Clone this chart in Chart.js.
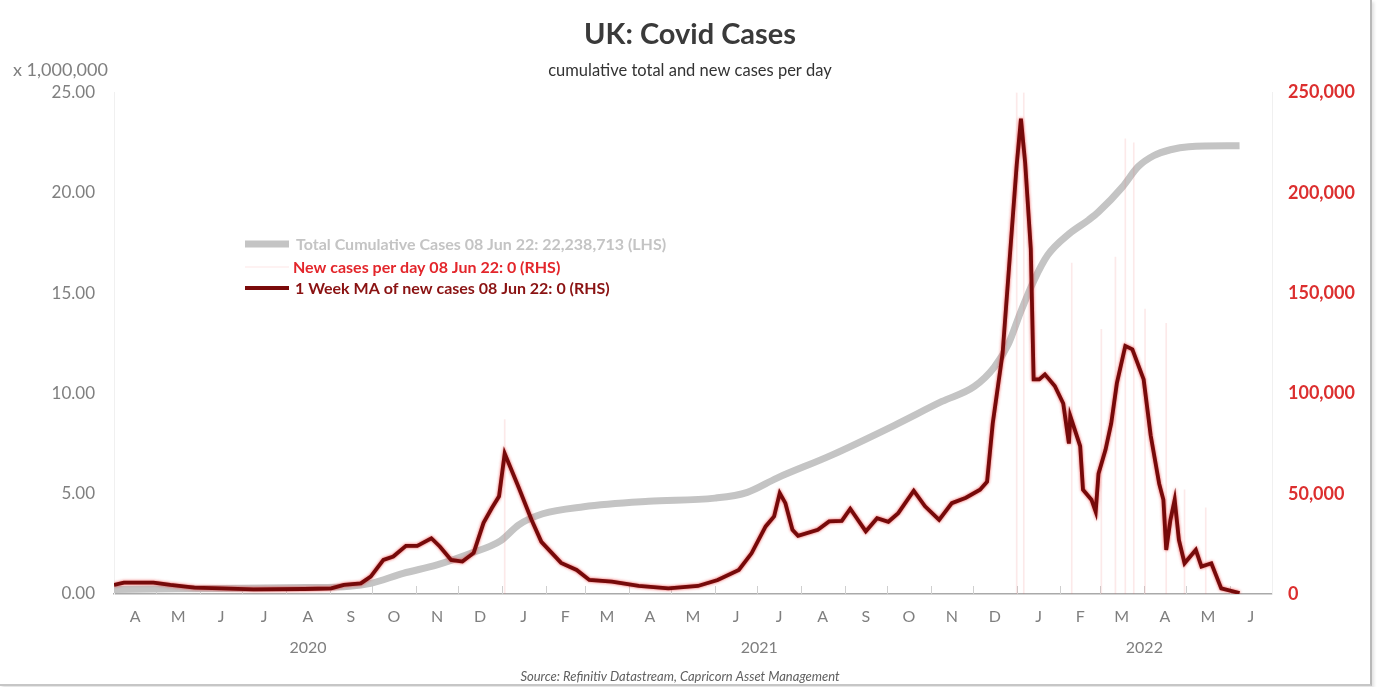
<!DOCTYPE html>
<html lang="en">
<head>
  <meta charset="UTF-8">
  <title>UK: Covid Cases</title>
  <style>
    html, body { margin: 0; padding: 0; background: #fff; }
    .marco { position: relative; width: 1380px; height: 687px; overflow: hidden; }
    .marco canvas { position: absolute; left: 0; top: 0; }
    .borde {
      position: absolute; left: 0; top: 0; width: 1370px; height: 684px;
      border-right: 2px solid #b8b8b8; border-bottom: 2px solid #c6c6c6;
      box-shadow: 2px 2px 3px rgba(0,0,0,0.12); pointer-events: none;
    }
  </style>
</head>
<body>
<div class="marco">
  <canvas id="grafico" width="1380" height="687"></canvas>
  <div class="borde"></div>
</div>

<script src="https://cdn.jsdelivr.net/npm/chart.js"></script>

<script>
  // total cumulative cases, millions (LHS)
  const cumDates = ['2020-04-01','2020-05-15','2020-07-01','2020-08-15','2020-09-15','2020-09-30',
    '2020-10-23','2020-11-16','2020-12-10','2020-12-31','2021-01-13','2021-01-30','2021-02-28',
    '2021-04-15','2021-06-01','2021-06-24','2021-07-15','2021-08-22','2021-10-06','2021-11-09',
    '2021-12-02','2021-12-16','2021-12-26','2022-01-04','2022-01-13','2022-01-23','2022-02-07',
    '2022-02-21','2022-02-28','2022-03-17','2022-03-28','2022-04-08','2022-04-20','2022-05-03','2022-06-08'];
  const cumValues = [0.22,0.26,0.29,0.32,0.38,0.53,
    1.03,1.45,2.03,2.65,3.45,4.0,4.35,
    4.62,4.78,5.07,5.78,6.9,8.4,9.6,
    10.35,11.3,12.45,14.1,15.6,16.9,17.95,
    18.65,19.05,20.3,21.3,21.85,22.15,22.3,22.35];

  // 1 week moving average of new cases (RHS)
  const maDates = ['2020-04-01','2020-04-08','2020-04-29','2020-05-11','2020-05-28','2020-06-16',
    '2020-07-09','2020-08-14','2020-09-02','2020-09-11','2020-09-23','2020-09-30','2020-10-09',
    '2020-10-16','2020-10-25','2020-11-02','2020-11-12','2020-11-18','2020-11-26','2020-12-04',
    '2020-12-12','2020-12-19','2020-12-25','2020-12-30','2021-01-03','2021-01-13','2021-01-22',
    '2021-01-29','2021-02-12','2021-02-23','2021-03-04','2021-03-20','2021-04-08','2021-04-29',
    '2021-05-20','2021-06-03','2021-06-18','2021-06-27','2021-07-07','2021-07-13','2021-07-17',
    '2021-07-21','2021-07-26','2021-07-30','2021-08-13','2021-08-21','2021-08-30','2021-09-05',
    '2021-09-16','2021-09-24','2021-10-02','2021-10-09','2021-10-20','2021-10-28','2021-11-07',
    '2021-11-16','2021-11-26','2021-12-06','2021-12-11','2021-12-15','2021-12-22','2021-12-27',
    '2022-01-01','2022-01-04','2022-01-07','2022-01-11','2022-01-13','2022-01-17','2022-01-21',
    '2022-01-28','2022-02-03','2022-02-07','2022-02-08','2022-02-15','2022-02-17','2022-02-23',
    '2022-02-26','2022-02-28','2022-03-05','2022-03-09','2022-03-13','2022-03-19','2022-03-24',
    '2022-04-01','2022-04-06','2022-04-12','2022-04-15','2022-04-17','2022-04-20','2022-04-23',
    '2022-04-26','2022-04-30','2022-05-08','2022-05-12','2022-05-19','2022-05-26','2022-06-08'];
  const maValues = [4500,5700,5700,4500,3200,2800,
    2300,2500,2800,4500,5300,8700,17000,
    18700,24000,24000,27800,23700,17000,16200,
    20500,35500,43000,48700,70000,53000,37000,
    26000,15500,12000,7000,6200,4000,2800,
    4000,7000,12000,20300,33700,38700,50300,
    45300,32000,29000,32000,36200,36500,42500,
    31200,37800,36000,40300,51500,43700,37000,
    45300,48000,52000,56000,85000,120000,167000,
    214000,237000,215000,172000,107000,107000,109500,
    103700,95000,75000,88700,73700,52000,47000,
    41000,60000,72000,85000,105000,123700,122000,
    107000,79000,55000,47000,22000,37000,47000,
    27000,15300,22000,13700,15300,2800,500];

  // new cases per day: visible daily spikes (RHS)
  const dailyDates = ['2021-01-03','2022-01-01','2022-01-06','2022-02-09','2022-03-02','2022-03-12',
    '2022-03-19','2022-03-25','2022-04-02','2022-04-17','2022-04-30','2022-05-15'];
  const dailyValues = [87000,250000,250000,165000,132000,168000,
    227000,225000,142000,135000,52000,43000];

  const monthLabels = ['A','M','J','J','A','S','O','N','D','J','F','M','A','M','J','J','A','S','O','N','D','J','F','M','A','M','J'];
  const yearLabels = ['2020','2021','2022'];

  const legendTexts = [
    'Total Cumulative Cases 08 Jun 22: 22,238,713 (LHS)',
    'New cases per day 08 Jun 22: 0 (RHS)',
    '1 Week MA of new cases 08 Jun 22: 0 (RHS)'
  ];

  const origen = Date.UTC(2020, 3, 1);
  function dia(s) {
    const p = s.split('-').map(Number);
    return (Date.UTC(p[0], p[1] - 1, p[2]) - origen) / 864e5;
  }
  function puntos(fechas, valores) {
    return fechas.map((f, i) => ({ x: dia(f), y: valores[i] }));
  }

  const inicioMes = [];
  for (let i = 0; i <= monthLabels.length; i++) {
    inicioMes.push((Date.UTC(2020, 3 + i, 1) - origen) / 864e5);
  }
  const mitadMes = monthLabels.map((m, i) => (inicioMes[i] + inicioMes[i + 1]) / 2);
  const xMax = inicioMes[inicioMes.length - 1];
  const inicioAnio = [0, dia('2021-01-01'), dia('2022-01-01'), xMax];
  const mitadAnio = yearLabels.map((a, i) => (inicioAnio[i] + inicioAnio[i + 1]) / 2);

  const FUENTE = "Lato, 'Open Sans', sans-serif";
  Chart.defaults.font.family = FUENTE;

  const brillo = {
    id: 'brillo',
    beforeDatasetDraw(chart, args) {
      if (args.index !== 2) return;
      chart.ctx.save();
      chart.ctx.shadowColor = 'rgba(235,45,45,0.85)';
      chart.ctx.shadowBlur = 3;
    },
    afterDatasetDraw(chart, args) {
      if (args.index !== 2) return;
      chart.ctx.restore();
    }
  };

  const extras = {
    id: 'extras',
    beforeDatasetsDraw(chart) {
      const ctx = chart.ctx, area = chart.chartArea, x = chart.scales.x;
      ctx.save();
      ctx.strokeStyle = '#cfcfcf';
      ctx.lineWidth = 1;
      inicioMes.slice(1, -1).forEach(v => {
        const px = Math.round(x.getPixelForValue(v)) + 0.5;
        ctx.beginPath();
        ctx.moveTo(px, area.bottom);
        ctx.lineTo(px, area.bottom - 8);
        ctx.stroke();
      });
      ctx.restore();
    },
    afterDraw(chart) {
      const ctx = chart.ctx;
      ctx.save();
      ctx.textBaseline = 'middle';
      ctx.textAlign = 'left';
      ctx.fillStyle = '#7f7f7f';
      ctx.font = '18px ' + FUENTE;
      ctx.fillText('x 1,000,000', 13, 70);

      ctx.textAlign = 'center';
      ctx.fillStyle = '#606060';
      ctx.font = 'italic 13px ' + FUENTE;
      ctx.fillText('Source: Refinitiv Datastream, Capricorn Asset Management', 680, 677);

      // legend
      const filas = [
        { y: 244, tx: 296, color: '#c4c4c4', sw: '#c4c4c4', grosor: 7 },
        { y: 267, tx: 293, color: '#e3262b', sw: 'rgba(240,120,120,0.2)', grosor: 1 },
        { y: 288, tx: 295, color: '#8a1212', sw: '#7a0a0a', grosor: 4 }
      ];
      ctx.textAlign = 'left';
      ctx.font = 'bold 16px ' + FUENTE;
      filas.forEach((f, i) => {
        ctx.strokeStyle = f.sw;
        ctx.lineWidth = f.grosor;
        ctx.beginPath();
        ctx.moveTo(245, f.y);
        ctx.lineTo(289, f.y);
        ctx.stroke();
        ctx.fillStyle = f.color;
        ctx.fillText(legendTexts[i], f.tx, f.y + 1);
      });
      ctx.restore();
    }
  };

  new Chart(document.getElementById('grafico'), {
    type: 'line',
    data: {
      datasets: [
        {
          label: legendTexts[0],
          data: puntos(cumDates, cumValues),
          yAxisID: 'y',
          borderColor: '#c4c4c4',
          borderWidth: 7,
          pointRadius: 0,
          cubicInterpolationMode: 'monotone',
          order: 3
        },
        {
          type: 'bar',
          label: legendTexts[1],
          data: puntos(dailyDates, dailyValues),
          yAxisID: 'y1',
          backgroundColor: 'rgba(236,110,110,0.15)',
          barThickness: 1,
          order: 2
        },
        {
          label: legendTexts[2],
          data: puntos(maDates, maValues),
          yAxisID: 'y1',
          borderColor: '#760a0a',
          borderWidth: 3.8,
          pointRadius: 0,
          tension: 0,
          order: 1
        }
      ]
    },
    options: {
      responsive: false,
      animation: false,
      layout: { padding: { left: 0, right: 0, top: 0, bottom: 21 } },
      plugins: {
        legend: { display: false },
        tooltip: { enabled: false },
        title: {
          display: true,
          text: 'UK: Covid Cases',
          color: '#3a3a3a',
          font: { size: 29, weight: 'bold' },
          padding: { top: 17, bottom: 9 }
        },
        subtitle: {
          display: true,
          text: 'cumulative total and new cases per day',
          color: '#333',
          font: { size: 16.5 },
          padding: { top: 0, bottom: 12 }
        }
      },
      scales: {
        x: {
          type: 'linear',
          position: 'bottom',
          min: 0,
          max: xMax,
          offset: false,
          weight: 0,
          grid: { display: false, drawTicks: false },
          border: { display: true, color: '#aaaaaa', width: 1.5 },
          afterBuildTicks: s => { s.ticks = mitadMes.map(v => ({ value: v })); },
          afterFit: s => { s.height = 40; },
          ticks: {
            autoSkip: false,
            maxRotation: 0,
            padding: 13,
            color: '#7f7f7f',
            font: { size: 16 },
            callback: (v, i) => monthLabels[i]
          }
        },
        xAnio: {
          type: 'linear',
          position: 'bottom',
          axis: 'x',
          min: 0,
          max: xMax,
          offset: false,
          weight: 1,
          grid: { display: false, drawTicks: false },
          border: { display: false },
          afterBuildTicks: s => { s.ticks = mitadAnio.map(v => ({ value: v })); },
          afterFit: s => { s.height = 32; },
          ticks: {
            autoSkip: false,
            maxRotation: 0,
            padding: 4,
            color: '#7f7f7f',
            font: { size: 16 },
            callback: (v, i) => yearLabels[i]
          }
        },
        y: {
          position: 'left',
          min: 0,
          max: 25,
          grid: { display: false, drawTicks: false },
          border: { display: true, color: '#f0f0f0' },
          afterFit: s => { s.width = 114; },
          ticks: {
            stepSize: 5,
            padding: 19,
            color: '#7f7f7f',
            font: { size: 17 },
            callback: v => v.toFixed(2)
          }
        },
        y1: {
          position: 'right',
          min: 0,
          max: 250000,
          grid: { display: false, drawTicks: false },
          border: { display: true, color: '#f0f0f0' },
          afterFit: s => { s.width = 108; },
          ticks: {
            stepSize: 50000,
            padding: 16,
            color: '#dc2f2f',
            font: { size: 18, weight: 'bold' },
            callback: v => v.toLocaleString('en-US')
          }
        }
      }
    },
    plugins: [brillo, extras]
  });
</script>
</body>
</html>
